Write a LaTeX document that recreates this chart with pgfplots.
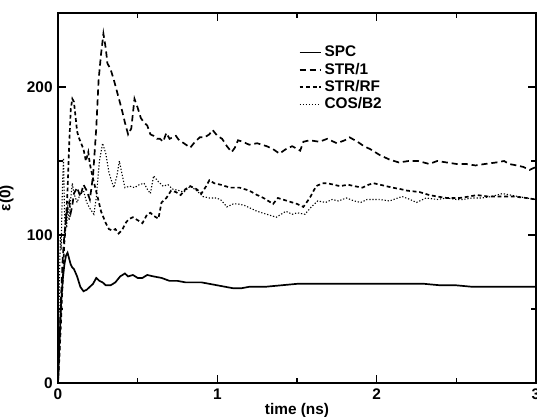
\documentclass[border=0pt]{standalone}
\usepackage{fontspec}
\setmainfont{Liberation Sans}
\usepackage{pgfplots}
\pgfplotsset{compat=1.18}
\begin{document}
\begin{tikzpicture}
\begin{axis}[
  scale only axis,
  width=310.7pt, height=240.5pt,
  xmin=0, xmax=3, ymin=0, ymax=250,
  xtick={0,1,2,3}, ytick={0,100,200},
  minor xtick={0.5,1.5,2.5}, minor ytick={50,150,250},
  tick align=inside, tick pos=both,
  major tick length=5pt, minor tick length=3pt,
  every tick/.style={black, line width=0.8pt},
  axis line style={line width=0.9pt},
  /pgf/number format/assume math mode=true,
  tick label style={font=\bfseries\fontsize{10}{12}\selectfont},
  label style={font=\bfseries\fontsize{10}{12}\selectfont},
  xlabel={time (ns)}, ylabel={ε(0)},
  xlabel style={yshift=4pt},
  ylabel style={yshift=1.8pt},
  legend style={at={(axis cs:1.48,232)}, anchor=north west, draw=none, fill=none,
    font=\bfseries\fontsize{10}{12}\selectfont, row sep=-1.5pt},
  legend cell align=left,
  legend image post style={xscale=0.8},
  clip=true,
]
\addplot[black, line width=1.1pt] coordinates {
(0,0) (0.01,30) (0.02,55) (0.03,70) (0.04,80) (0.05,86) (0.06,88) (0.07,84) (0.08,80) (0.09,78)
(0.10,77) (0.12,72) (0.14,65) (0.16,62) (0.18,63) (0.20,65) (0.22,67) (0.24,71) (0.26,69) (0.28,68)
(0.30,66) (0.33,66) (0.36,68) (0.39,72) (0.42,74) (0.44,72) (0.47,73) (0.50,71) (0.53,71) (0.56,73)
(0.60,72) (0.65,71) (0.70,69) (0.75,69) (0.80,68) (0.85,68) (0.90,68) (0.95,67) (1.00,66) (1.05,65)
(1.10,64) (1.15,64) (1.20,65) (1.25,65) (1.30,65) (1.40,66) (1.50,67) (1.60,67) (1.70,67) (1.80,67)
(1.90,67) (2.00,67) (2.10,67) (2.20,67) (2.30,67) (2.40,66) (2.50,66) (2.60,65) (2.70,65) (2.80,65)
(2.90,65) (3.00,65)
};
\addlegendentry{SPC}
\addplot[black, line width=1.1pt, dash pattern=on 4pt off 2.5pt] coordinates {
(0,0) (0.01,30) (0.02,60) (0.03,85) (0.04,100) (0.05,110) (0.06,118) (0.07,122) (0.08,115) (0.09,120)
(0.10,128) (0.12,132) (0.14,126) (0.16,134) (0.18,130) (0.20,124) (0.22,140) (0.24,172) (0.255,205) (0.27,222)
(0.285,236) (0.30,226) (0.31,216) (0.33,212) (0.35,205) (0.37,197) (0.40,185) (0.42,176) (0.44,168) (0.46,172)
(0.48,192) (0.50,186) (0.52,179) (0.54,176) (0.56,174) (0.58,168) (0.60,167) (0.62,165) (0.64,165) (0.66,163)
(0.68,169) (0.70,165) (0.72,166) (0.74,167) (0.76,164) (0.79,162) (0.83,159) (0.86,163) (0.89,166) (0.92,166)
(0.95,168) (0.97,171) (1.00,167) (1.03,165) (1.06,160) (1.09,156) (1.11,159) (1.13,164) (1.16,163) (1.20,161)
(1.25,162) (1.31,160) (1.35,158) (1.39,155) (1.43,158) (1.47,160) (1.52,157) (1.54,163) (1.58,164) (1.64,163)
(1.69,165) (1.75,162) (1.80,164) (1.83,166) (1.88,163) (1.92,160) (1.96,158) (2.02,154) (2.08,151) (2.14,149)
(2.20,150) (2.26,150) (2.33,148) (2.38,150) (2.44,149) (2.50,148) (2.56,148) (2.62,147) (2.68,148) (2.75,149)
(2.80,150) (2.83,148) (2.88,147) (2.92,146) (2.96,144) (3.00,146)
};
\addlegendentry{STR/1}
\addplot[black, line width=1.1pt, dash pattern=on 2.5pt off 1.8pt] coordinates {
(0,0) (0.01,20) (0.02,45) (0.03,70) (0.04,95) (0.05,110) (0.06,130) (0.07,160) (0.08,185) (0.09,192)
(0.10,190) (0.11,180) (0.12,170) (0.13,166) (0.145,162) (0.16,158) (0.175,150) (0.19,156) (0.20,148) (0.22,138)
(0.25,125) (0.27,116) (0.30,108) (0.32,104) (0.34,103) (0.36,104) (0.38,101) (0.40,103) (0.43,109) (0.45,111)
(0.47,112) (0.50,110) (0.53,108) (0.56,114) (0.58,115) (0.60,113) (0.63,111) (0.65,122) (0.68,125) (0.71,130)
(0.74,129) (0.77,127) (0.80,131) (0.83,133) (0.87,131) (0.90,128) (0.93,133) (0.95,137) (0.98,135) (1.02,134)
(1.05,133) (1.08,132) (1.14,132) (1.20,130) (1.25,127) (1.29,125) (1.35,121) (1.38,125) (1.44,123) (1.50,121)
(1.54,119) (1.58,125) (1.62,133) (1.66,135) (1.69,135) (1.73,134) (1.77,133) (1.82,134) (1.86,133) (1.91,132)
(1.95,134) (1.98,135) (2.02,134) (2.06,133) (2.10,132) (2.15,131) (2.19,130) (2.27,129) (2.33,127) (2.38,126)
(2.44,125) (2.52,125) (2.58,126) (2.63,127) (2.70,126) (2.76,126) (2.86,126) (2.94,125) (3.00,124)
};
\addlegendentry{STR/RF}
\addplot[black, line width=0.7pt, dash pattern=on 0.8pt off 1.2pt] coordinates {
(0,0) (0.005,40) (0.01,75) (0.015,100) (0.02,90) (0.025,120) (0.03,140) (0.035,152) (0.04,120) (0.045,100)
(0.05,115) (0.055,105) (0.06,120) (0.07,110) (0.08,125) (0.09,135) (0.10,128) (0.12,122) (0.14,128) (0.16,130)
(0.18,122) (0.20,118) (0.225,114) (0.24,125) (0.26,150) (0.28,162) (0.30,155) (0.32,142) (0.35,132) (0.37,140)
(0.385,150) (0.40,142) (0.42,132) (0.45,133) (0.48,132) (0.51,134) (0.54,135) (0.56,131) (0.58,128) (0.60,140)
(0.63,136) (0.66,133) (0.69,134) (0.72,131) (0.76,130) (0.79,129) (0.83,133) (0.87,130) (0.91,126) (0.95,125)
(0.99,125) (1.02,124) (1.06,119) (1.10,121) (1.13,121) (1.17,120) (1.21,118) (1.25,116) (1.31,114) (1.37,112)
(1.43,116) (1.47,114) (1.50,115) (1.55,114) (1.59,119) (1.63,123) (1.68,122) (1.72,124) (1.76,123) (1.81,125)
(1.86,123) (1.90,122) (1.94,124) (1.98,124) (2.02,124) (2.08,123) (2.16,126) (2.21,124) (2.25,122) (2.31,125)
(2.38,124) (2.44,125) (2.50,124) (2.54,124) (2.60,125) (2.66,125) (2.72,126) (2.79,128) (2.84,127) (2.89,126)
(2.94,125) (3.00,124)
};
\addlegendentry{COS/B2}
\end{axis}
\pgfresetboundingbox
\path[use as bounding box] (-37.7pt,-22.1pt) rectangle (311.35pt,248.95pt);
\end{tikzpicture}
\end{document}
